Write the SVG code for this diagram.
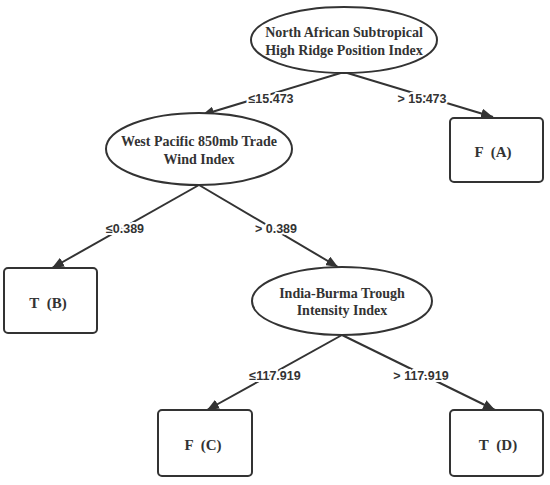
<svg xmlns="http://www.w3.org/2000/svg" width="550" height="485" viewBox="0 0 550 485">
<style>
.node ellipse,.node rect{fill:#fff;stroke:#333;stroke-width:2}
.nt{font-family:"Liberation Serif","Times New Roman",serif;font-weight:bold;font-size:14px;fill:#333;text-anchor:middle}
.lt{font-family:"Liberation Serif","Times New Roman",serif;font-weight:bold;font-size:15px;fill:#333;text-anchor:middle;word-spacing:4px}
.edge line{stroke:#333;stroke-width:2}
.lbl{font-family:"Liberation Sans",Arial,sans-serif;font-weight:bold;font-size:12.5px;fill:#333;text-anchor:middle;stroke:#fff;stroke-width:4;paint-order:stroke}
</style>
<defs>
<marker id="ah" viewBox="0 0 12 10" refX="12" refY="5" markerWidth="12" markerHeight="10" markerUnits="userSpaceOnUse" orient="auto">
<path d="M0,0 L12,5 L0,10 z" fill="#333"/>
</marker>
</defs>
<rect width="550" height="485" fill="#fff"/>
<g id="connectors" class="edge">
<line x1="344" y1="72" x2="202" y2="115" marker-end="url(#ah)"/>
<line x1="344" y1="72" x2="493" y2="117" marker-end="url(#ah)"/>
<line x1="199" y1="185" x2="52" y2="268" marker-end="url(#ah)"/>
<line x1="199" y1="185" x2="338" y2="267" marker-end="url(#ah)"/>
<line x1="342" y1="335" x2="207" y2="410" marker-end="url(#ah)"/>
<line x1="342" y1="335" x2="495" y2="410" marker-end="url(#ah)"/>
<text class="lbl" x="271" y="103">≤15.473</text>
<text class="lbl" x="422" y="103">&gt; 15.473</text>
<text class="lbl" x="125" y="233">≤0.389</text>
<text class="lbl" x="276" y="233">&gt; 0.389</text>
<text class="lbl" x="275" y="380">≤117.919</text>
<text class="lbl" x="421" y="380">&gt; 117.919</text>
</g>
<g id="root" class="node">
<ellipse cx="344" cy="40" rx="93" ry="33"/>
<text class="nt" x="344" y="37">North African Subtropical</text>
<text class="nt" x="344" y="55">High Ridge Position Index</text>
</g>
<g id="westpacific" class="node">
<ellipse cx="199" cy="149" rx="93" ry="36"/>
<text class="nt" x="199" y="146">West Pacific 850mb Trade</text>
<text class="nt" x="199" y="164">Wind Index</text>
</g>
<g id="leafA" class="node">
<rect x="450" y="118" width="93" height="64" rx="4"/>
<text class="lt" x="493" y="157">F (A)</text>
</g>
<g id="leafB" class="node">
<rect x="4" y="268" width="93" height="65" rx="4"/>
<text class="lt" x="48" y="308">T (B)</text>
</g>
<g id="indiaburma" class="node">
<ellipse cx="342" cy="301" rx="90" ry="34"/>
<text class="nt" x="342" y="298">India-Burma Trough</text>
<text class="nt" x="342" y="315">Intensity Index</text>
</g>
<g id="leafC" class="node">
<rect x="158" y="410" width="94" height="66" rx="4"/>
<text class="lt" x="203" y="450">F (C)</text>
</g>
<g id="leafD" class="node">
<rect x="450" y="410" width="93" height="66" rx="4"/>
<text class="lt" x="498" y="450">T (D)</text>
</g>
</svg>
